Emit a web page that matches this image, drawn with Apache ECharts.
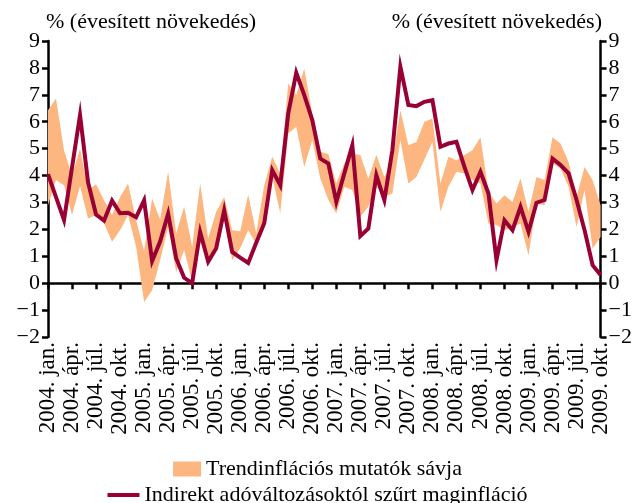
<!DOCTYPE html>
<html>
<head>
	<meta charset="UTF-8">
	<title>Maginfláció és trendinflációs mutatók</title>
	<script src="https://cdn.jsdelivr.net/npm/echarts/dist/echarts.min.js"></script>
	<style>
		html, body { margin:0; padding:0; background:#fff; }
		#chart { width:635px; height:503px; }
	</style>
</head>
<body>
	<div id="chart"></div>
<script type="text/javascript">
	// havi adatok 2004. jan. - 2009. okt.
	var years = [2004, 2005, 2006, 2007, 2008, 2009];
	var monthNames = ['jan.', 'febr.', 'márc.', 'ápr.', 'máj.', 'jún.', 'júl.', 'aug.', 'szept.', 'okt.', 'nov.', 'dec.'];
	var lastMonthCount = 10;

	// trendinflációs mutatók sávja: alsó és felső széle
	var bandLow = [2.9, 3.83, 3.64, 2.53, 3.6, 2.4, 2.53, 2.22, 1.54, 1.97,
		2.53, 1.35, -0.7, -0.26, 0.85, 2.09, 0.42, 1.23, 0.05, 1.72,
		0.85, 1.47, 2.47, 0.85, 1.3, 1.97, 1.47, 2.22, 3.95, 2.61,
		5.56, 5.81, 4.32, 5.32, 3.89, 3.1, 2.59, 3.58, 3.46, 2.47,
		2.84, 3.58, 3.2, 3.33, 5.32, 3.7, 3.95, 4.6, 5.25, 2.65,
		3.58, 4.14, 4.08, 3.83, 3.7, 2.22, 2.16, 1.97, 2.09, 2.22,
		1.04, 2.96, 2.9, 4.45, 4.26, 3.58, 2.09, 3.46, 1.29, 1.72];
	var bandHigh = [6.43, 6.86, 4.94, 4.0, 5.0, 3.46, 3.68, 3.08, 2.53, 3.2,
		3.7, 2.34, 1.2, 3.15, 2.37, 4.14, 1.85, 2.84, 1.35, 3.7,
		1.66, 2.65, 3.2, 1.97, 1.93, 3.3, 1.85, 3.64, 4.7, 4.08,
		7.42, 6.99, 7.98, 6.3, 4.88, 4.8, 3.7, 4.45, 4.82, 4.76,
		3.89, 4.76, 3.95, 4.57, 6.43, 5.13, 5.25, 6.0, 6.12, 3.7,
		4.7, 4.57, 4.76, 4.94, 5.42, 3.4, 2.96, 3.27, 3.02, 3.89,
		2.65, 3.95, 3.83, 5.42, 5.19, 4.51, 3.21, 4.32, 3.83, 2.9];

	// indirekt adóváltozásoktól szűrt maginfláció
	var coreInfl = [4.05, 3.2, 2.35, 4.3, 6.25, 3.75, 2.55, 2.33, 3.07, 2.6,
		2.62, 2.45, 3.08, 0.82, 1.55, 2.58, 0.93, 0.2, 0.0, 1.9,
		0.8, 1.3, 2.71, 1.16, 0.95, 0.75, 1.5, 2.23, 4.2, 3.64,
		6.31, 7.82, 6.99, 6.06, 4.63, 4.45, 3.02, 4.08, 5.13, 1.75,
		2.03, 4.01, 3.09, 4.94, 8.04, 6.62, 6.58, 6.74, 6.8, 5.07,
		5.19, 5.25, 4.32, 3.46, 4.14, 3.33, 0.86, 2.34, 1.97, 2.84,
		1.91, 2.99, 3.09, 4.63, 4.39, 4.08, 3.09, 1.97, 0.67, 0.3];

	var categories = [];
	for (var y = 0; y < years.length; y++) {
		var n = (y == years.length - 1) ? lastMonthCount : 12;
		for (var m = 0; m < n; m++) {
			categories.push(years[y] + '. ' + monthNames[m]);
		}
	}

	var bandWidth = [];
	for (var i = 0; i < bandLow.length; i++) {
		bandWidth.push(+(bandHigh[i] - bandLow[i]).toFixed(2));
	}

	var font = 'Liberation Serif';
	var bandColor = '#FDB680';
	var lineColor = '#990033';
	var axisText = { fontFamily: font, fontSize: 22, color: '#000' };
	var minusFmt = function (v) { return String(v).replace('-', '\u2212'); };

	var yAxisBase = {
		type: 'value',
		min: -2,
		max: 9,
		interval: 1,
		splitLine: { show: false },
		axisLine: { show: true, lineStyle: { color: '#000', width: 2.5 } },
		axisTick: { show: true, length: 6, lineStyle: { color: '#000', width: 2.5 } }
	};

	var myChart = echarts.init(document.getElementById('chart'));

	var option = {
		animation: false,
		grid: { left: 48, right: 33, top: 41, bottom: 166 },
		graphic: [
			{ type: 'text', left: 46, top: 11, style: { text: '% (évesített növekedés)', font: '22px "Liberation Serif"', fill: '#000' } },
			{ type: 'text', right: 33, top: 11, style: { text: '% (évesített növekedés)', font: '22px "Liberation Serif"', fill: '#000' } }
		],
		legend: [
			{
				data: ['Trendinflációs mutatók sávja'],
				left: 'center',
				top: 453,
				icon: 'rect',
				itemWidth: 28,
				itemHeight: 15,
				textStyle: { fontFamily: font, fontSize: 22, color: '#000' }
			},
			{
				data: ['Indirekt adóváltozásoktól szűrt maginfláció'],
				left: 'center',
				top: 479,
				icon: 'rect',
				itemWidth: 32,
				itemHeight: 4,
				textStyle: { fontFamily: font, fontSize: 22, color: '#000' }
			}
		],
		xAxis: [
			{
				// nulla vonal a kis osztásokkal
				type: 'category',
				data: categories,
				boundaryGap: false,
				axisLine: { onZero: true, lineStyle: { color: '#000', width: 2.5 } },
				axisTick: { show: true, interval: 2, length: 6, lineStyle: { color: '#000', width: 2.5 } },
				axisLabel: { show: false },
				splitLine: { show: false }
			},
			{
				// dátum feliratok alul
				type: 'category',
				data: categories,
				boundaryGap: false,
				position: 'bottom',
				axisLine: { show: false, onZero: false },
				axisTick: { show: false },
				axisLabel: { interval: 2, rotate: 90, margin: 5, fontFamily: font, fontSize: 23, color: '#000' },
				splitLine: { show: false }
			}
		],
		yAxis: [
			Object.assign({}, yAxisBase, {
				position: 'left',
				axisLabel: Object.assign({ margin: 8, formatter: minusFmt }, axisText)
			}),
			Object.assign({}, yAxisBase, {
				position: 'right',
				axisLabel: Object.assign({ margin: 8, formatter: minusFmt }, axisText)
			})
		],
		series: [
			{
				name: 'also',
				type: 'line',
				data: bandLow,
				stack: 'sav',
				stackStrategy: 'all',
				symbol: 'none',
				silent: true,
				lineStyle: { width: 0, opacity: 0 },
				itemStyle: { opacity: 0 }
			},
			{
				name: 'Trendinflációs mutatók sávja',
				type: 'line',
				data: bandWidth,
				stack: 'sav',
				stackStrategy: 'all',
				symbol: 'none',
				lineStyle: { width: 0, opacity: 0 },
				itemStyle: { color: bandColor },
				areaStyle: { color: bandColor, opacity: 1 }
			},
			{
				name: 'Indirekt adóváltozásoktól szűrt maginfláció',
				type: 'line',
				data: coreInfl,
				symbol: 'none',
				z: 5,
				itemStyle: { color: lineColor },
				lineStyle: { color: lineColor, width: 4, join: 'miter' }
			}
		]
	};

	myChart.setOption(option);
</script>
</body>
</html>
